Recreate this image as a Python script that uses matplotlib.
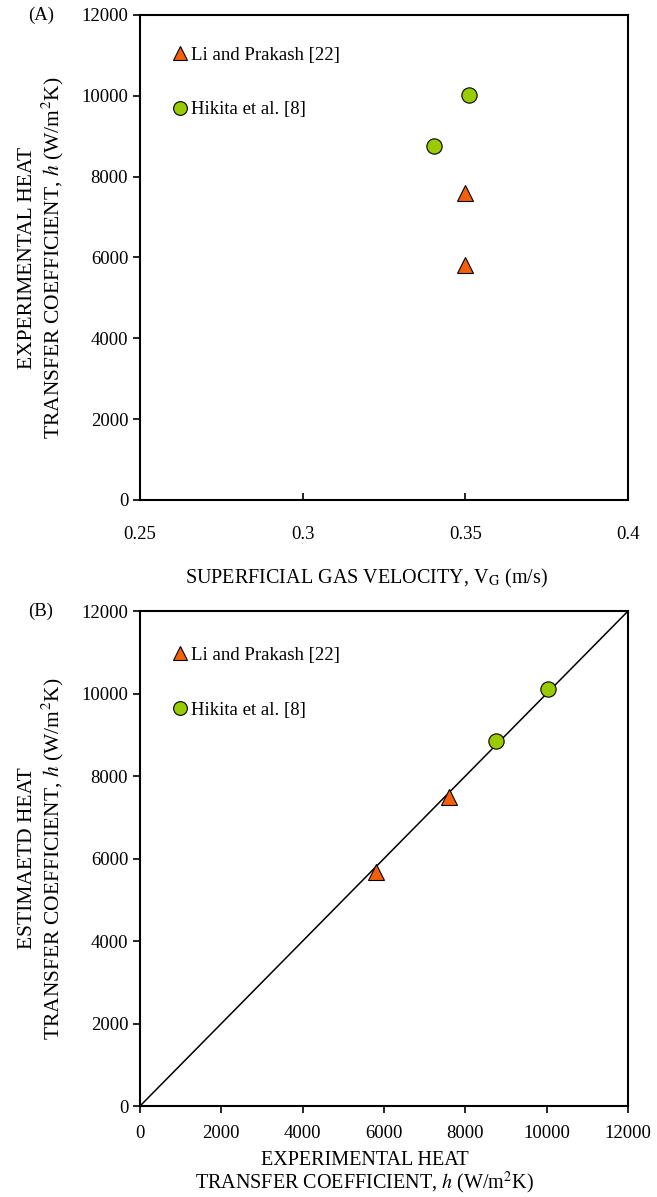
import matplotlib
matplotlib.use("Agg")
import matplotlib.pyplot as plt

plt.rcParams['font.family'] = ['Liberation Serif', 'DejaVu Serif']
plt.rcParams['mathtext.fontset'] = 'stix'

# panel A: experimental h vs superficial gas velocity
li_vg = [0.350, 0.350]
li_h_exp = [7600, 5810]
hik_vg = [0.3404, 0.3511]
hik_h_exp = [8760, 10020]

# panel B: estimated vs experimental h
li_h_est = [7490, 5680]
hik_h_est = [8850, 10100]

li_label = 'Li and Prakash [22]'
hik_label = 'Hikita et al. [8]'
orange = '#f45f0a'
green = '#99cc00'

FS = 13.5      # ticks, legend
FSX = 14.5     # x labels
FSY = 15.5     # y labels

fig = plt.figure(figsize=(6.57, 11.97), dpi=100)
axA = fig.add_axes([0.2131, 0.5823, 0.7428, 0.4052])
axB = fig.add_axes([0.2131, 0.0760, 0.7428, 0.4135])


def style(ax, xdir):
    for s in ax.spines.values():
        s.set_linewidth(1.5)
    ax.tick_params(axis='y', direction='out', length=5, width=1.2, labelsize=FS)
    ax.tick_params(axis='x', direction=xdir, length=5, width=1.2, labelsize=FS)


def add_legend(ax, y):
    ax.legend(loc='upper left', frameon=False, fontsize=FS, handlelength=1.0,
              handletextpad=0.08, labelspacing=2.0, borderaxespad=0.0,
              bbox_to_anchor=(0.047, y), markerscale=0.9)


# (A)
axA.plot(li_vg, li_h_exp, ls='none', marker='^', ms=11.5, mfc=orange, mec='black',
         mew=0.8, label=li_label)
axA.plot(hik_vg, hik_h_exp, ls='none', marker='o', ms=11, mfc=green, mec='black',
         mew=0.8, label=hik_label)
axA.set_xlim(0.25, 0.4)
axA.set_ylim(0, 12000)
axA.set_xticks([0.25, 0.3, 0.35, 0.4])
axA.set_xticklabels(['0.25', '0.3', '0.35', '0.4'])
axA.set_yticks(range(0, 12001, 2000))
style(axA, 'in')
axA.tick_params(axis='x', pad=19)
axA.set_xlabel('SUPERFICIAL GAS VELOCITY, V$_{\\mathrm{G}}$ (m/s)', fontsize=FSX)
axA.xaxis.set_label_coords(0.465, -0.138)
axA.set_ylabel('EXPERIMENTAL HEAT\nTRANSFER COEFFICIENT, $h$ (W/m$^2$K)', fontsize=FSY,
               labelpad=11, linespacing=1.15)
add_legend(axA, 0.95)
fig.text(0.0624, 0.9875, '(A)', fontsize=FS, ha='center', va='center')

# (B)
axB.plot([0, 12000], [0, 12000], color='black', lw=1.1)
axB.plot(li_h_exp, li_h_est, ls='none', marker='^', ms=11.5, mfc=orange, mec='black',
         mew=0.8, label=li_label)
axB.plot(hik_h_exp, hik_h_est, ls='none', marker='o', ms=11, mfc=green, mec='black',
         mew=0.8, label=hik_label)
axB.set_xlim(0, 12000)
axB.set_ylim(0, 12000)
axB.set_xticks(range(0, 12001, 2000))
axB.set_yticks(range(0, 12001, 2000))
style(axB, 'out')
axB.tick_params(axis='x', pad=9)
axB.set_xlabel('EXPERIMENTAL HEAT\nTRANSFER COEFFICIENT, $h$ (W/m$^2$K)', fontsize=FSX,
               linespacing=1.0)
axB.xaxis.set_label_coords(0.46, -0.09)
axB.set_ylabel('ESTIMAETD HEAT\nTRANSFER COEFFICIENT, $h$ (W/m$^2$K)', fontsize=FSY,
               labelpad=11, linespacing=1.15)
add_legend(axB, 0.943)
fig.text(0.0624, 0.4896, '(B)', fontsize=FS, ha='center', va='center')

fig.savefig('out.png', dpi=100)
